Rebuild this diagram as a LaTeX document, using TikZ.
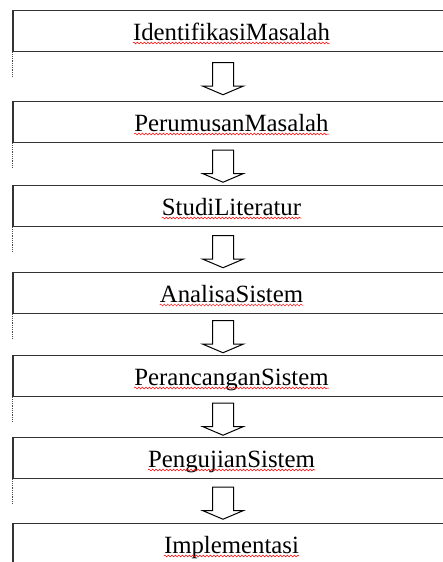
\documentclass[tikz,border=0pt]{standalone}
\usepackage{fontspec}
\setmainfont{Liberation Serif}
\usetikzlibrary{shapes.arrows,calc,decorations.pathmorphing}

\tikzset{
  stepbox/.style={draw=black!80, line width=1.8pt,
    fill=white, minimum width=437pt, minimum height=41pt, inner sep=0pt},
  steptext/.style={inner sep=0pt, text height=18pt, text depth=0pt,
    font=\fontsize{24.8}{26}\selectfont},
  spellwave/.style={red, line width=0.5pt,
    decorate, decoration={snake, segment length=3.5pt, amplitude=0.9pt}},
  flowarrow/.style={single arrow, draw=black, line width=1pt, fill=white,
    shape border rotate=270, minimum height=32pt, minimum width=40pt, inner sep=10pt,
    single arrow head extend=10pt, single arrow tip angle=134, xshift=-8.5pt},
  tail/.style={densely dotted, black!70, line width=0.8pt}
}

\begin{document}
\begin{tikzpicture}[x=1pt, y=-1pt]
    \useasboundingbox (0,0) rectangle (443,562);

    % Draw the boxes
    \node[stepbox] (b1) at (231.5,31) {};
    \node[stepbox] (b2) at (231.5,122) {};
    \node[stepbox] (b3) at (231.5,206) {};
    \node[stepbox] (b4) at (231.5,293) {};
    \node[stepbox] (b5) at (231.5,376) {};
    \node[stepbox] (b6) at (231.5,458) {};
    \node[stepbox] (b7) at (231.5,544) {};

    % Put the words in the boxes
    \node[steptext] (t1) at (b1) {IdentifikasiMasalah};
    \node[steptext] (t2) at (b2) {PerumusanMasalah};
    \node[steptext] (t3) at (b3) {StudiLiteratur};
    \node[steptext] (t4) at (b4) {AnalisaSistem};
    \node[steptext] (t5) at (b5) {PerancanganSistem};
    \node[steptext] (t6) at (b6) {PengujianSistem};
    \node[steptext] (t7) at (b7) {Implementasi};

    % Red wavy marks under the words
    \draw[spellwave] ([yshift=-3pt]t1.base west) -- ([yshift=-3pt]t1.base east);
    \draw[spellwave] ([yshift=-3pt]t2.base west) -- ([yshift=-3pt]t2.base east);
    \draw[spellwave] ([yshift=-3pt]t3.base west) -- ([yshift=-3pt]t3.base east);
    \draw[spellwave] ([yshift=-3pt]t4.base west) -- ([yshift=-3pt]t4.base east);
    \draw[spellwave] ([yshift=-3pt]t5.base west) -- ([yshift=-3pt]t5.base east);
    \draw[spellwave] ([yshift=-3pt]t6.base west) -- ([yshift=-3pt]t6.base east);
    \draw[spellwave] ([yshift=-3pt]t7.base west) -- ([yshift=-3pt]t7.base east);

    % Draw the dotted tails
    \draw[tail] (b1.south west) -- ++(0,25);
    \draw[tail] (b2.south west) -- ++(0,25);
    \draw[tail] (b3.south west) -- ++(0,25);
    \draw[tail] (b4.south west) -- ++(0,25);
    \draw[tail] (b5.south west) -- ++(0,25);
    \draw[tail] (b6.south west) -- ++(0,25);

    % Draw the arrows
    \node[flowarrow] (a1) at ($(b1.south)!0.5!(b2.north)$) {};
    \node[flowarrow] (a2) at ($(b2.south)!0.5!(b3.north)$) {};
    \node[flowarrow] (a3) at ($(b3.south)!0.5!(b4.north)$) {};
    \node[flowarrow] (a4) at ($(b4.south)!0.5!(b5.north)$) {};
    \node[flowarrow] (a5) at ($(b5.south)!0.5!(b6.north)$) {};
    \node[flowarrow] (a6) at ($(b6.south)!0.5!(b7.north)$) {};
\end{tikzpicture}
\end{document}
